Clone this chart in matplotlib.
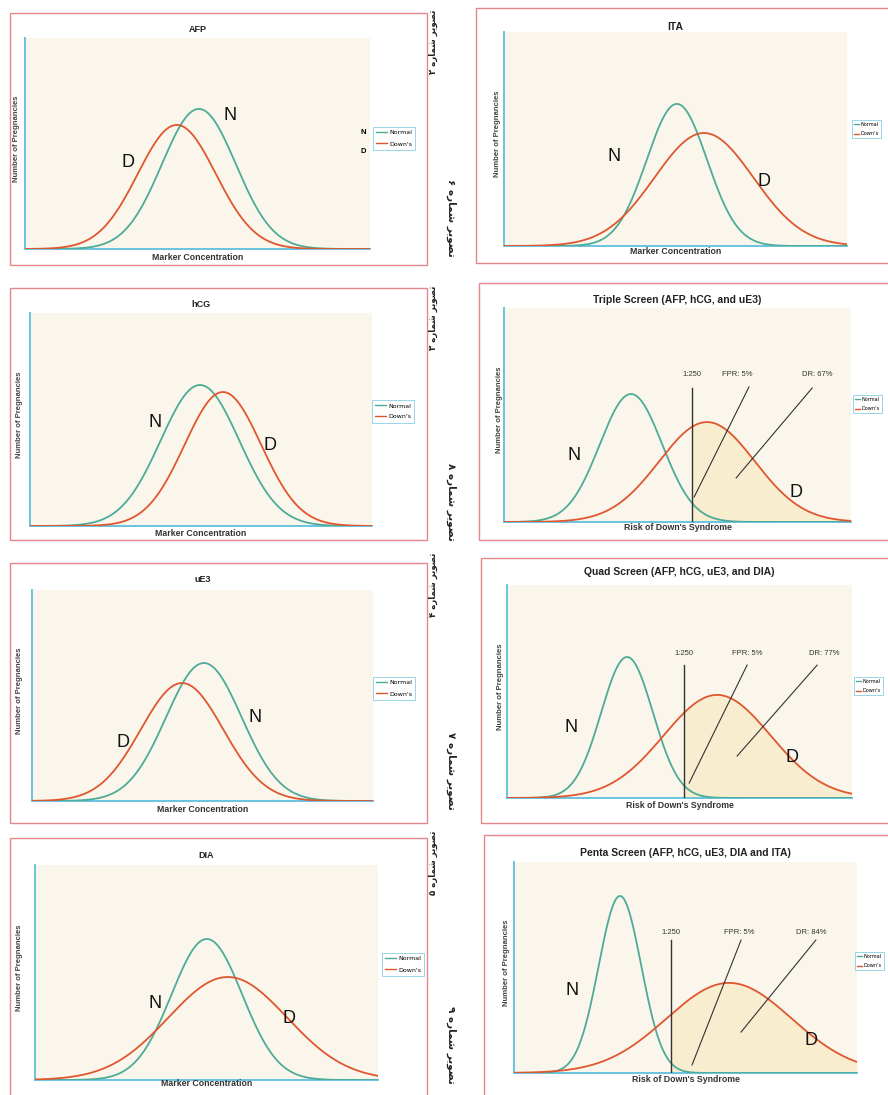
import numpy as np
import matplotlib
matplotlib.use("Agg")
import matplotlib.pyplot as plt
from matplotlib.patches import Rectangle
from matplotlib.lines import Line2D

W, H = 888, 1095

# ---------------- data ----------------
titles = ["AFP", "ITA", "hCG", "Triple Screen (AFP, hCG, and uE3)", "uE3",
          "Quad Screen (AFP, hCG, uE3, and DIA)", "DIA",
          "Penta Screen (AFP, hCG, uE3, DIA and ITA)"]
xlabels = ["Marker Concentration", "Marker Concentration", "Marker Concentration",
           "Risk of Down's Syndrome", "Marker Concentration", "Risk of Down's Syndrome",
           "Marker Concentration", "Risk of Down's Syndrome"]
series_names = ["Normal", "Down's"]
# bell curves: peak position, peak height, spread (axis units 0-100)
normal_peak_pos = [50.4, 50.4, 49.7, 36.6, 50.4, 34.8, 50.1, 30.9]
normal_peak_height = [66.4, 66.4, 66.2, 59.8, 65.4, 66.2, 65.6, 83.9]
normal_spread = [10.7, 8.8, 11.5, 9.0, 11.1, 7.5, 10.3, 6.2]
downs_peak_pos = [44.0, 58.3, 56.4, 58.5, 44.0, 60.9, 56.2, 62.7]
downs_peak_height = [58.8, 52.8, 62.9, 46.7, 55.9, 48.4, 47.9, 42.7]
downs_spread = [11.3, 14.4, 11.2, 13.8, 12.1, 15.5, 17.3, 18.2]
# screens: cutoff 1:250, FPR and DR labels
cutoff_label = "1:250"
cutoff_pos = {3: 54.2, 5: 51.3, 7: 45.8}
fpr_labels = {3: "FPR: 5%", 5: "FPR: 5%", 7: "FPR: 5%"}
dr_labels = {3: "DR: 67%", 5: "DR: 77%", 7: "DR: 84%"}
caption_digits = ["\u06F2", "\u06F6", "\u06F3", "\u06F8", "\u06F4", "\u06F7", "\u06F5", "\u06F9"]

# ---------------- layout (pixels) ----------------
axes_px = [(25, 38, 370, 249), (504, 32, 847, 246), (30, 313, 372, 526),
           (504, 308, 851, 522), (32, 590, 373, 801), (507, 585, 852, 798),
           (35, 865, 378, 1080), (514, 862, 857, 1073)]
frames_px = [(10, 13, 427, 265), (476, 8, 905, 263), (10, 288, 427, 540),
             (479, 283, 905, 540), (10, 563, 427, 823), (481, 558, 905, 823),
             (10, 838, 427, 1105), (484, 835, 905, 1105)]
title_y = [30, 27, 305, 300, 579, 572, 856, 853]
xlabel_y = [257, 251, 533, 527, 809, 805, 1084, 1080]
ylabel_x = [17, 497, 20, 499, 20, 501, 20, 506]
legend_px = [(373, 127), (852, 120), (372, 400), (853, 395), (373, 677),
             (854, 677), (382, 953), (855, 952)]
n_pos = [(59.4, 63.5), (32.1, 41.6), (36.5, 48.8), (20.2, 31.3), (65.4, 39.8),
         (18.6, 33.3), (35.0, 35.8), (16.9, 39.3)]
d_pos = [(29.9, 40.8), (75.8, 30.0), (70.2, 38.0), (84.1, 14.0), (26.7, 27.5),
         (82.6, 19.2), (74.1, 28.8), (86.6, 15.6)]
cut_top = {3: 62.6, 5: 62.4, 7: 63.0}
lab_y = {3: 68.7, 5: 68.0, 7: 66.4}
fpr_lab_x = {3: 67.1, 5: 69.6, 7: 65.6}
dr_lab_x = {3: 90.2, 5: 91.9, 7: 86.6}
fpr_arrow = {3: ((70.6, 63.1), (54.8, 11.7)), 5: ((69.6, 62.4), (52.8, 7.0)),
             7: ((66.2, 63.0), (51.9, 3.8))}
dr_arrow = {3: ((88.8, 62.6), (66.9, 20.6)), 5: ((89.9, 62.4), (66.7, 19.7)),
            7: ((88.0, 63.0), (66.2, 19.4))}
caption_px = [(433, 42, 90), (451, 218, 270), (433, 318, 90), (451, 502, 270),
              (433, 585, 90), (451, 771, 270), (433, 863, 90), (451, 1045, 270)]

c_normal = "#4dab97"
c_downs = "#e0562f"
c_axis = "#6ac3df"
c_frame = "#e4878a"
c_bg = "#fbf6ec"
c_fill = "#f8edcf"

fig = plt.figure(figsize=(W / 100, H / 100), dpi=100)
fig.patch.set_facecolor("white")

def fx(x):
    return x / W

def fy(y):
    return 1 - y / H

# Persian caption "تصویر شماره N" written in visual order with presentation forms
cap_word2 = "\uFEE9\uFEAD\uFE8E\uFEE4\uFEB7"
cap_word1 = "\uFEAE\uFBFE\uFEEE\uFEBC\uFE97"

xs = np.linspace(0, 100, 600)

for i in range(8):
    right_col = i % 2 == 1
    l, t, r, b = frames_px[i]
    fig.patches.append(Rectangle((fx(l), fy(b)), (r - l) / W, (b - t) / H,
                                 transform=fig.transFigure, fill=False,
                                 edgecolor=c_frame, linewidth=1.0, zorder=0))
    al, at, ar, ab = axes_px[i]
    ax = fig.add_axes([fx(al), fy(ab), (ar - al) / W, (ab - at) / H])
    ax.set_facecolor(c_bg)
    ax.set_xlim(0, 100)
    ax.set_ylim(0, 100)
    for s in ("top", "right"):
        ax.spines[s].set_visible(False)
    for s in ("left", "bottom"):
        ax.spines[s].set_color(c_axis)
        ax.spines[s].set_linewidth(1.4)
    ax.set_xticks([])
    ax.set_yticks([])

    yn = normal_peak_height[i] * np.exp(-0.5 * ((xs - normal_peak_pos[i]) / normal_spread[i]) ** 2)
    yd = downs_peak_height[i] * np.exp(-0.5 * ((xs - downs_peak_pos[i]) / downs_spread[i]) ** 2)

    if i in cutoff_pos:
        c = cutoff_pos[i]
        ax.fill_between(xs, 0, yd, where=xs >= c, color=c_fill, linewidth=0, zorder=1)
        ax.plot([c, c], [0, cut_top[i]], color="#333333", linewidth=1.0, zorder=4)
        ax.text(c, lab_y[i], cutoff_label, fontsize=5.5, ha="center", va="center",
                color="#333333", family="Liberation Sans")
        ax.text(fpr_lab_x[i], lab_y[i], fpr_labels[i], fontsize=5.5, ha="center",
                va="center", color="#333333", family="Liberation Sans")
        ax.text(dr_lab_x[i], lab_y[i], dr_labels[i], fontsize=5.5, ha="center",
                va="center", color="#333333", family="Liberation Sans")
        for (p0, p1) in (fpr_arrow[i], dr_arrow[i]):
            ax.plot([p0[0], p1[0]], [p0[1], p1[1]], color="#333333", linewidth=0.8, zorder=4)

    ax.plot(xs, yn, color=c_normal, linewidth=1.3, zorder=3)
    ax.plot(xs, yd, color=c_downs, linewidth=1.3, zorder=3)

    ax.text(n_pos[i][0], n_pos[i][1], "N", fontsize=13, ha="center", va="center",
            family="Liberation Sans", color="#111111", zorder=5)
    ax.text(d_pos[i][0], d_pos[i][1], "D", fontsize=13, ha="center", va="center",
            family="Liberation Sans", color="#111111", zorder=5)

    cx = (al + ar) / 2
    fig.text(fx(cx), fy(title_y[i]), titles[i], fontsize=7.5 if right_col else 6.5,
             fontweight="bold", ha="center", va="center", family="Liberation Sans",
             color="#222222")
    fig.text(fx(cx), fy(xlabel_y[i]), xlabels[i], fontsize=6.3, fontweight="bold",
             ha="center", va="center", family="Liberation Sans", color="#333333")
    fig.text(fx(ylabel_x[i]), fy((at + ab) / 2 - 5), "Number of Pregnancies",
             fontsize=5.6, fontweight="bold", rotation=90, ha="center", va="center",
             family="Liberation Sans", color="#444444")

    lx, ly = legend_px[i]
    handles = [Line2D([], [], color=c_normal, linewidth=1.0),
               Line2D([], [], color=c_downs, linewidth=1.0)]
    if right_col:
        lfs, hl, bp = 3.6, 1.1, 0.35
    else:
        lfs, hl, bp = 4.5, 1.8, 0.5
    leg = fig.legend(handles, series_names, loc="upper left",
                     bbox_to_anchor=(fx(lx), fy(ly)), bbox_transform=fig.transFigure,
                     fontsize=lfs, handlelength=hl, handletextpad=0.3,
                     borderpad=bp, labelspacing=0.9, frameon=True, fancybox=False,
                     borderaxespad=0)
    leg.get_frame().set_edgecolor(c_axis)
    leg.get_frame().set_linewidth(0.6)

    cxp, cyp, rot = caption_px[i]
    fig.text(fx(cxp), fy(cyp), caption_digits[i] + " " + cap_word2 + " " + cap_word1,
             fontsize=7.5 if right_col else 6.2, rotation=rot, ha="center", va="center",
             family=["DejaVu Sans"], color="#222222", fontweight="bold")

# N / D markers beside the AFP legend
fig.text(fx(363), fy(132), "N", fontsize=5.5, fontweight="bold", ha="center",
         va="center", family="Liberation Sans")
fig.text(fx(363), fy(152), "D", fontsize=5.5, fontweight="bold", ha="center",
         va="center", family="Liberation Sans")

fig.savefig("out.png", dpi=100, facecolor="white")
